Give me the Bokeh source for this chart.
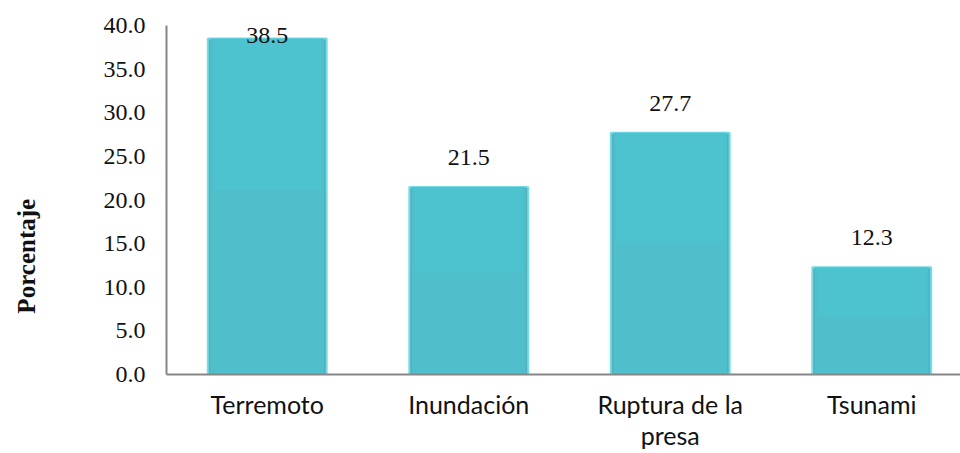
from bokeh.plotting import figure
from bokeh.models import ColumnDataSource, Range1d, FixedTicker, NumeralTickFormatter
from bokeh.core.properties import value
from bokeh.embed import file_html
from bokeh.resources import INLINE

# Survey results: perceived hazard (%)
categories = ["Terremoto", "Inundación", "Ruptura de la\npresa", "Tsunami"]
percent = [38.5, 21.5, 27.7, 12.3]
y_ticks = [0, 5, 10, 15, 20, 25, 30, 35, 40]

xs = [i + 0.5 for i in range(len(categories))]
label_y = [min(v + 3.4, 38.85) for v in percent]
labels = [f"{v:.1f}" for v in percent]

src = ColumnDataSource(dict(x=xs, top=percent, ly=label_y, txt=labels,
                            upper=[v * 0.55 for v in percent]))

p = figure(width=960, height=453, output_backend="svg", toolbar_location=None,
           x_range=Range1d(0, 794 / 201.5), y_range=Range1d(0, 40),
           min_border_left=166, min_border_right=0, min_border_top=25,
           min_border_bottom=78)
p.outline_line_color = None
p.grid.grid_line_color = None
p.background_fill_color = "white"
p.border_fill_color = "white"

bw = 0.59
# bar body with a light bevelled rim
p.vbar(x="x", top="top", bottom=0, width=bw, source=src,
       fill_color="#56aeb8", line_color="#74dde8", line_width=2)
p.vbar(x="x", top="top", bottom=0, width=bw - 0.025, source=src,
       fill_color="#4fbfcb", line_color=None)
# brighter upper part of each bar
p.vbar(x="x", top="top", bottom="upper", width=bw - 0.05, source=src,
       fill_color="#48d0de", fill_alpha=0.25, line_color=None)

p.text(x="x", y="ly", text="txt", source=src, text_align="center",
       text_baseline="middle", text_font=value("Liberation Serif"),
       text_font_size="24px", text_color="#111111")

# axes
p.yaxis.ticker = FixedTicker(ticks=y_ticks)
p.yaxis.formatter = NumeralTickFormatter(format="0.0")
p.yaxis.major_label_text_font = "Liberation Serif"
p.yaxis.major_label_text_font_size = "24px"
p.yaxis.major_label_text_color = "#111111"
p.yaxis.major_label_standoff = 21

# y title sits below the axis midpoint; trailing no-break spaces shift it down
p.yaxis.axis_label = "Porcentaje" + "\u00a0" * 18
p.yaxis.axis_label_text_font = "Liberation Serif"
p.yaxis.axis_label_text_font_style = "bold"
p.yaxis.axis_label_text_font_size = "25px"
p.yaxis.axis_label_text_color = "#111111"
p.yaxis.axis_label_standoff = 61

p.xaxis.ticker = FixedTicker(ticks=xs)
p.xaxis.major_label_overrides = {x: c for x, c in zip(xs, categories)}
p.xaxis.major_label_text_font = "Lato"
p.xaxis.major_label_text_font_size = "25px"
p.xaxis.major_label_text_color = "#111111"
p.xaxis.major_label_text_line_height = 1.05
p.xaxis.major_label_standoff = 14

for ax in (p.xaxis, p.yaxis):
    ax.axis_line_color = "#868686"
    ax.axis_line_width = 2
    ax.major_tick_line_color = None
    ax.minor_tick_line_color = None
    ax.major_tick_out = 0
    ax.major_tick_in = 0
    ax.minor_tick_out = 0

open("out.html", "w").write(file_html(p, INLINE))
